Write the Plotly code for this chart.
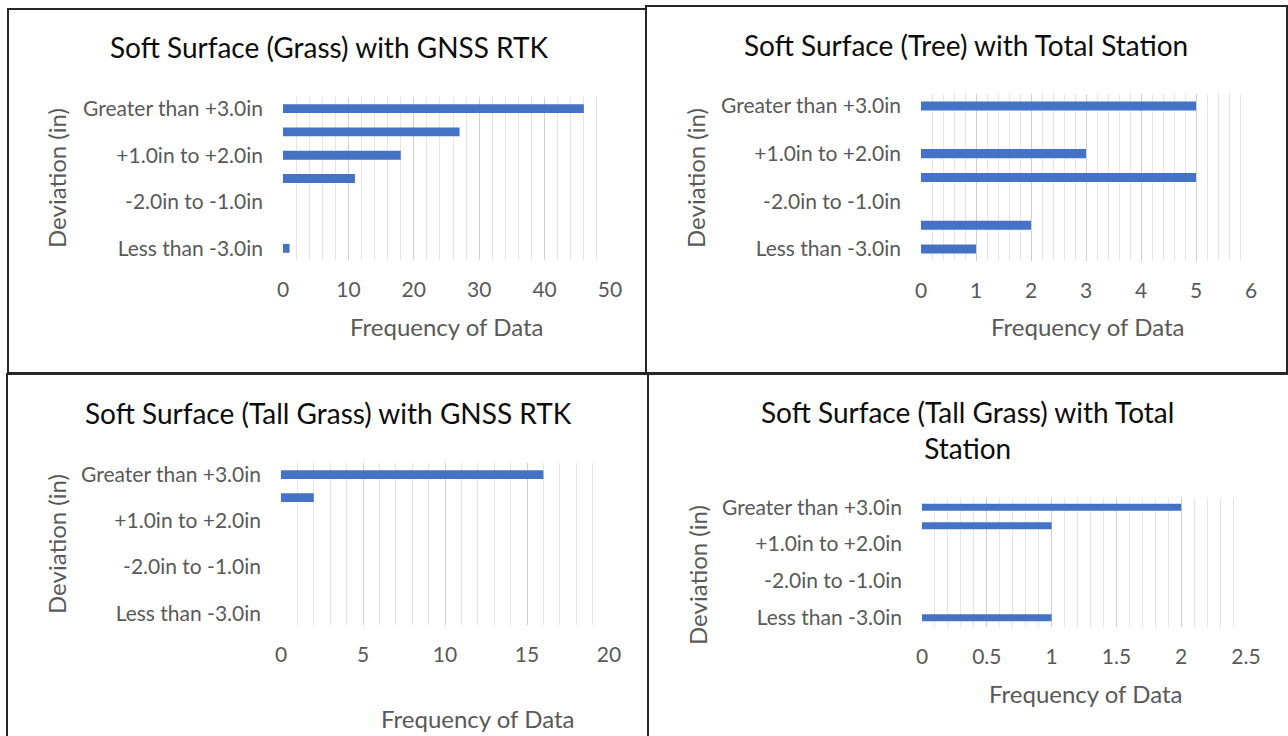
import plotly.graph_objects as go

categories = ["Less than -3.0in", "-3.0in to -2.0in", "-2.0in to -1.0in",
              "-1.0in to +1.0in", "+1.0in to +2.0in", "+2.0in to +3.0in",
              "Greater than +3.0in"]
shown_labels = ["Less than -3.0in", "-2.0in to -1.0in", "+1.0in to +2.0in", "Greater than +3.0in"]

grass_gnss = [1, 0, 0, 11, 18, 27, 46]
tree_ts = [1, 2, 0, 5, 3, 0, 5]
tall_gnss = [0, 0, 0, 0, 0, 2, 16]
tall_ts = [1, 0, 0, 0, 0, 1, 2]

titles = ["Soft Surface (Grass) with GNSS RTK",
          "Soft Surface (Tree) with Total Station",
          "Soft Surface (Tall Grass) with GNSS RTK",
          "Soft Surface (Tall Grass) with Total<br>Station"]
x_ranges = [[0, 50], [0, 6], [0, 20], [0, 2.5]]
x_dticks = [10, 1, 5, 0.5]
x_minor = [2, 0.2, 1, 0.1]

W, H = 1288, 736
FONT = "Lato"
BAR = "#4472C4"

# plot areas in pixels: (x0, x1, y_top, y_bottom)
areas = [(283, 610, 97, 260), (921, 1251, 94, 261), (281, 609, 463, 625), (922, 1246, 498, 627)]
title_pos = [(329, 47), (966, 45), (328, 413), (967, 430)]
ytitle_pos = [(56, 178), (695, 178), (56, 544), (697, 575)]
xtitle_pos = [(446, 326), (1087, 326), (477, 718), (1085, 693)]
borders = [(8, 9, 646, 373), (646, 6, 1287, 373), (7, 374, 648, 737), (648, 374, 1289, 737)]

series = [grass_gnss, tree_ts, tall_gnss, tall_ts]

fig = go.Figure()
annotations = []
shapes = []
for i in range(4):
    ax = "" if i == 0 else str(i + 1)
    fig.add_trace(go.Bar(x=series[i], y=categories, orientation="h",
                         marker=dict(color=BAR, line=dict(width=0)),
                         xaxis="x" + ax, yaxis="y" + ax, showlegend=False))
    x0, x1, yt, yb = areas[i]
    fig.layout["xaxis" + ax] = dict(
        domain=[x0 / W, x1 / W], anchor="y" + ax, range=x_ranges[i], dtick=x_dticks[i],
        showgrid=True, gridcolor="#d0d0d0", gridwidth=1, zeroline=False,
        showline=False, ticks="", ticklabelstandoff=15, automargin=False,
        tickfont=dict(family=FONT, size=21, color="#595959"),
        minor=dict(dtick=x_minor[i], showgrid=True, gridcolor="#e6e6e6", gridwidth=1),
        fixedrange=True)
    fig.layout["yaxis" + ax] = dict(
        domain=[1 - yb / H, 1 - yt / H], anchor="x" + ax, type="category",
        categoryorder="array", categoryarray=categories, automargin=False,
        tickvals=shown_labels, showgrid=False, zeroline=False, showline=False,
        ticks="", ticklabelstandoff=19, range=[-0.5, 6.5],
        tickfont=dict(family=FONT, size=21, color="#595959"), fixedrange=True)
    tx, ty = title_pos[i]
    annotations.append(dict(text=titles[i], x=tx / W, y=1 - ty / H, xref="paper", yref="paper",
                            showarrow=False, xanchor="center", yanchor="middle",
                            font=dict(family=FONT, size=28, color="#0d0d0d")))
    yx, yy = ytitle_pos[i]
    annotations.append(dict(text="Deviation (in)", x=yx / W, y=1 - yy / H, xref="paper", yref="paper",
                            showarrow=False, textangle=-90, xanchor="center", yanchor="middle",
                            font=dict(family=FONT, size=24, color="#595959")))
    xx, xy = xtitle_pos[i]
    annotations.append(dict(text="Frequency of Data", x=xx / W, y=1 - xy / H, xref="paper", yref="paper",
                            showarrow=False, xanchor="center", yanchor="middle",
                            font=dict(family=FONT, size=24, color="#595959")))
    bx0, by0, bx1, by1 = borders[i]
    shapes.append(dict(type="rect", xref="paper", yref="paper",
                       x0=bx0 / W, x1=bx1 / W, y0=1 - by1 / H, y1=1 - by0 / H,
                       line=dict(color="#262626", width=2), fillcolor="rgba(0,0,0,0)"))

fig.update_layout(width=W, height=H, margin=dict(l=0, r=0, t=0, b=0, pad=0, autoexpand=False),
                  paper_bgcolor="white", plot_bgcolor="white", bargap=0.62,
                  annotations=annotations, shapes=shapes)
fig.write_html("out.html", config={"displayModeBar": False, "responsive": False},
               post_script="document.body.style.margin='0';document.body.style.overflow='hidden';")
